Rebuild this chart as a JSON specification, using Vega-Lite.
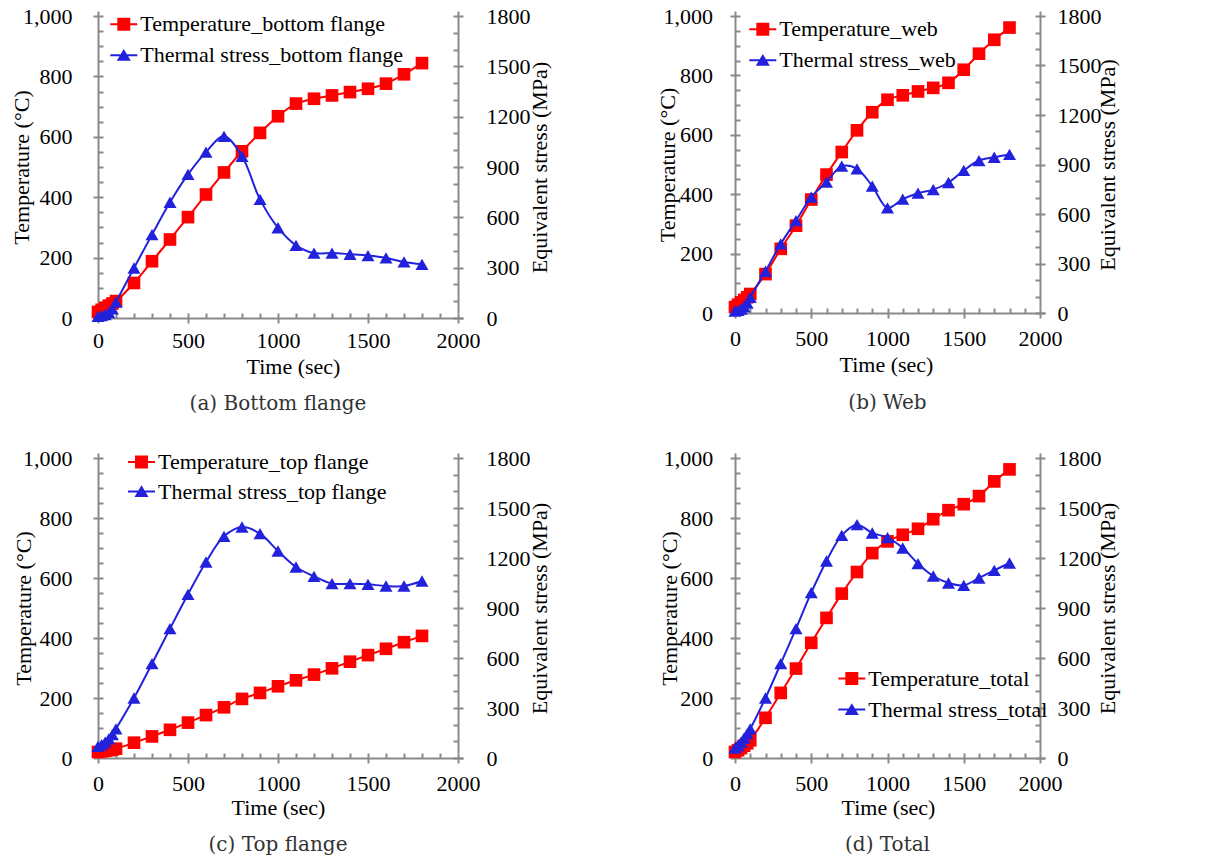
{
  "$schema": "https://vega.github.io/schema/vega-lite/v6.json",
  "padding": {"left": 10, "top": 5, "right": 5, "bottom": 5},
  "background": "white",
  "datasets": {
    "pts": [
      {"p": "a", "t": 0, "temp": 20, "stress": 10},
      {"p": "a", "t": 20, "temp": 27, "stress": 14},
      {"p": "a", "t": 40, "temp": 34, "stress": 20},
      {"p": "a", "t": 60, "temp": 41, "stress": 32},
      {"p": "a", "t": 80, "temp": 48, "stress": 55},
      {"p": "a", "t": 100, "temp": 56, "stress": 95},
      {"p": "a", "t": 200, "temp": 116, "stress": 298},
      {"p": "a", "t": 300, "temp": 188, "stress": 497},
      {"p": "a", "t": 400, "temp": 260, "stress": 690},
      {"p": "a", "t": 500, "temp": 334, "stress": 856},
      {"p": "a", "t": 600, "temp": 409, "stress": 989},
      {"p": "a", "t": 700, "temp": 482, "stress": 1083},
      {"p": "a", "t": 800, "temp": 552, "stress": 964},
      {"p": "a", "t": 900, "temp": 613, "stress": 707},
      {"p": "a", "t": 1000, "temp": 668, "stress": 538},
      {"p": "a", "t": 1100, "temp": 710, "stress": 433},
      {"p": "a", "t": 1200, "temp": 726, "stress": 387},
      {"p": "a", "t": 1300, "temp": 737, "stress": 387},
      {"p": "a", "t": 1400, "temp": 748, "stress": 380},
      {"p": "a", "t": 1500, "temp": 759, "stress": 372},
      {"p": "a", "t": 1600, "temp": 776, "stress": 358},
      {"p": "a", "t": 1700, "temp": 807, "stress": 334},
      {"p": "a", "t": 1800, "temp": 844, "stress": 320},

      {"p": "b", "t": 0, "temp": 20, "stress": 12},
      {"p": "b", "t": 20, "temp": 28, "stress": 16},
      {"p": "b", "t": 40, "temp": 36, "stress": 24},
      {"p": "b", "t": 60, "temp": 44, "stress": 38},
      {"p": "b", "t": 80, "temp": 53, "stress": 60},
      {"p": "b", "t": 100, "temp": 64, "stress": 95},
      {"p": "b", "t": 200, "temp": 131, "stress": 253},
      {"p": "b", "t": 300, "temp": 216, "stress": 419},
      {"p": "b", "t": 400, "temp": 294, "stress": 560},
      {"p": "b", "t": 500, "temp": 382, "stress": 702},
      {"p": "b", "t": 600, "temp": 466, "stress": 793},
      {"p": "b", "t": 700, "temp": 542, "stress": 890},
      {"p": "b", "t": 800, "temp": 615, "stress": 874},
      {"p": "b", "t": 900, "temp": 676, "stress": 769},
      {"p": "b", "t": 1000, "temp": 718, "stress": 637},
      {"p": "b", "t": 1100, "temp": 733, "stress": 690},
      {"p": "b", "t": 1200, "temp": 746, "stress": 726},
      {"p": "b", "t": 1300, "temp": 758, "stress": 748},
      {"p": "b", "t": 1400, "temp": 775, "stress": 791},
      {"p": "b", "t": 1500, "temp": 819, "stress": 864},
      {"p": "b", "t": 1600, "temp": 873, "stress": 924},
      {"p": "b", "t": 1700, "temp": 920, "stress": 944},
      {"p": "b", "t": 1800, "temp": 961, "stress": 961},

      {"p": "c", "t": 0, "temp": 20, "stress": 70},
      {"p": "c", "t": 20, "temp": 22, "stress": 80},
      {"p": "c", "t": 40, "temp": 24, "stress": 95},
      {"p": "c", "t": 60, "temp": 26, "stress": 115},
      {"p": "c", "t": 80, "temp": 28, "stress": 140},
      {"p": "c", "t": 100, "temp": 31, "stress": 175},
      {"p": "c", "t": 200, "temp": 51, "stress": 360},
      {"p": "c", "t": 300, "temp": 72, "stress": 566},
      {"p": "c", "t": 400, "temp": 94, "stress": 776},
      {"p": "c", "t": 500, "temp": 118, "stress": 982},
      {"p": "c", "t": 600, "temp": 143, "stress": 1176},
      {"p": "c", "t": 700, "temp": 169, "stress": 1330},
      {"p": "c", "t": 800, "temp": 197, "stress": 1386},
      {"p": "c", "t": 900, "temp": 217, "stress": 1346},
      {"p": "c", "t": 1000, "temp": 239, "stress": 1242},
      {"p": "c", "t": 1100, "temp": 259, "stress": 1146},
      {"p": "c", "t": 1200, "temp": 278, "stress": 1090},
      {"p": "c", "t": 1300, "temp": 299, "stress": 1046},
      {"p": "c", "t": 1400, "temp": 321, "stress": 1046},
      {"p": "c", "t": 1500, "temp": 343, "stress": 1042},
      {"p": "c", "t": 1600, "temp": 364, "stress": 1032},
      {"p": "c", "t": 1700, "temp": 386, "stress": 1032},
      {"p": "c", "t": 1800, "temp": 407, "stress": 1062},

      {"p": "d", "t": 0, "temp": 20, "stress": 60},
      {"p": "d", "t": 20, "temp": 26, "stress": 75},
      {"p": "d", "t": 40, "temp": 33, "stress": 95},
      {"p": "d", "t": 60, "temp": 41, "stress": 120},
      {"p": "d", "t": 80, "temp": 49, "stress": 145},
      {"p": "d", "t": 100, "temp": 59, "stress": 175},
      {"p": "d", "t": 200, "temp": 134, "stress": 360},
      {"p": "d", "t": 300, "temp": 217, "stress": 566},
      {"p": "d", "t": 400, "temp": 298, "stress": 776},
      {"p": "d", "t": 500, "temp": 384, "stress": 992},
      {"p": "d", "t": 600, "temp": 467, "stress": 1182},
      {"p": "d", "t": 700, "temp": 548, "stress": 1336},
      {"p": "d", "t": 800, "temp": 620, "stress": 1400},
      {"p": "d", "t": 900, "temp": 683, "stress": 1350},
      {"p": "d", "t": 1000, "temp": 722, "stress": 1322},
      {"p": "d", "t": 1100, "temp": 744, "stress": 1260},
      {"p": "d", "t": 1200, "temp": 764, "stress": 1166},
      {"p": "d", "t": 1300, "temp": 796, "stress": 1092},
      {"p": "d", "t": 1400, "temp": 826, "stress": 1050},
      {"p": "d", "t": 1500, "temp": 846, "stress": 1036},
      {"p": "d", "t": 1600, "temp": 873, "stress": 1080},
      {"p": "d", "t": 1700, "temp": 922, "stress": 1126},
      {"p": "d", "t": 1800, "temp": 962, "stress": 1170}
    ],
    "leg": [
      {"p": "a", "s": "Temperature_bottom flange"},
      {"p": "a", "s": "Thermal stress_bottom flange"},
      {"p": "b", "s": "Temperature_web"},
      {"p": "b", "s": "Thermal stress_web"},
      {"p": "c", "s": "Temperature_top flange"},
      {"p": "c", "s": "Thermal stress_top flange"},
      {"p": "d", "s": "Temperature_total"},
      {"p": "d", "s": "Thermal stress_total"}
    ]
  },
  "columns": 2,
  "spacing": {"row": 140, "column": 277},
  "bounds": "flush",
  "resolve": {
    "scale": {"color": "independent", "shape": "independent"},
    "legend": {"color": "independent", "shape": "independent"}
  },
  "concat": [
    {
      "width": 360, "height": 302,
      "title": {"text": "(a) Bottom flange", "offset": 17},
      "data": {"name": "pts"},
      "transform": [{"filter": "datum.p === 'a'"}],
      "layer": [
        {
          "mark": {"type": "line", "color": "#ff0000", "strokeWidth": 2, "interpolate": "catmull-rom",
                   "point": {"shape": "square", "filled": true, "size": 160, "color": "#ff0000", "opacity": 1}},
          "encoding": {
            "x": {"field": "t", "type": "quantitative", "scale": {"domain": [0, 2000], "nice": false},
                  "axis": {"values": [0, 500, 1000, 1500, 2000], "format": "d", "tickSize": 10,
                           "grid": true, "gridOpacity": {"condition": {"test": "datum.value === 0 || datum.value === 2000", "value": 1}, "value": 0},
                           "labelPadding": 7, "title": "Time (sec)", "titleX": 195, "titleY": 60, "titleBaseline": "alphabetic", "titleAlign": "center"}},
            "y": {"field": "temp", "type": "quantitative", "scale": {"domain": [0, 1000], "nice": false},
                  "axis": {"values": [0,50,100,150,200,250,300,350,400,450,500,550,600,650,700,750,800,850,900,950,1000],
                           "labelExpr": "datum.value % 200 === 0 ? format(datum.value, ',d') : ''",
                           "tickSize": {"condition": {"test": "datum.value % 200 === 0", "value": 10}, "value": 5},
                           "grid": true, "gridOpacity": {"condition": {"test": "datum.value === 0", "value": 1}, "value": 0},
                           "labelPadding": 21, "title": "Temperature (°C)", "titleAngle": 270, "titleBaseline": "middle", "titleAlign": "center", "titleX": -81.7, "titleY": 151}}
          }
        },
        {
          "mark": {"type": "line", "color": "#2222dd", "strokeWidth": 2, "interpolate": "catmull-rom",
                   "point": {"shape": "triangle-up", "filled": true, "size": 170, "color": "#2222dd", "opacity": 1}},
          "encoding": {
            "x": {"field": "t", "type": "quantitative", "scale": {"domain": [0, 2000], "nice": false},
                  "axis": {"orient": "bottom", "values": [100,200,300,400,600,700,800,900,1100,1200,1300,1400,1600,1700,1800,1900],
                           "tickSize": 5, "labels": false, "grid": false, "title": null}},
            "y": {"field": "stress", "type": "quantitative", "scale": {"domain": [0, 1800], "nice": false},
                  "axis": {"orient": "right", "values": [0,100,200,300,400,500,600,700,800,900,1000,1100,1200,1300,1400,1500,1600,1700,1800],
                           "labelExpr": "datum.value % 300 === 0 ? format(datum.value, 'd') : ''",
                           "tickSize": {"condition": {"test": "datum.value % 300 === 0", "value": 10}, "value": 5},
                           "grid": false, "labelPadding": 23, "title": "Equivalent stress (MPa)", "titleAngle": 270, "titleBaseline": "middle", "titleAlign": "center", "titleX": 86, "titleY": 151}}
          }
        },
        {
          "data": {"name": "leg"},
          "transform": [{"filter": "datum.p === 'a'"}],
          "mark": {"type": "point", "filled": true, "opacity": 0},
          "encoding": {
            "color": {"field": "s", "type": "nominal",
                      "scale": {"domain": ["Temperature_bottom flange", "Thermal stress_bottom flange"], "range": ["#ff0000", "#2222dd"]},
                      "legend": {"orient": "none", "legendX": 12.3, "legendY": -5.2}},
            "shape": {"field": "s", "type": "nominal",
                      "scale": {"domain": ["Temperature_bottom flange", "Thermal stress_bottom flange"],
                                "range": ["M-1,-0.075H1V0.075H-1Z M-0.48,-0.48H0.48V0.48H-0.48Z", "M-1,-0.075H1V0.075H-1Z M0,-0.47L0.52,0.4H-0.52Z"]},
                      "legend": {"orient": "none", "legendX": 12.3, "legendY": -5.2}}
          }
        }
      ],
      "resolve": {"scale": {"x": "independent", "y": "independent"}}
    },
    {
      "width": 305, "height": 297,
      "title": {"text": "(b) Web", "offset": 17},
      "data": {"name": "pts"},
      "transform": [{"filter": "datum.p === 'b'"}],
      "layer": [
        {
          "mark": {"type": "line", "color": "#ff0000", "strokeWidth": 2, "interpolate": "catmull-rom",
                   "point": {"shape": "square", "filled": true, "size": 160, "color": "#ff0000", "opacity": 1}},
          "encoding": {
            "x": {"field": "t", "type": "quantitative", "scale": {"domain": [0, 2000], "nice": false},
                  "axis": {"values": [0, 500, 1000, 1500, 2000], "format": "d", "tickSize": 10,
                           "grid": true, "gridOpacity": {"condition": {"test": "datum.value === 0 || datum.value === 2000", "value": 1}, "value": 0},
                           "labelPadding": 10, "title": "Time (sec)", "titleX": 151, "titleY": 63.5, "titleBaseline": "alphabetic", "titleAlign": "center"}},
            "y": {"field": "temp", "type": "quantitative", "scale": {"domain": [0, 1000], "nice": false},
                  "axis": {"values": [0,50,100,150,200,250,300,350,400,450,500,550,600,650,700,750,800,850,900,950,1000],
                           "labelExpr": "datum.value % 200 === 0 ? format(datum.value, ',d') : ''",
                           "tickSize": {"condition": {"test": "datum.value % 200 === 0", "value": 10}, "value": 5},
                           "grid": true, "gridOpacity": {"condition": {"test": "datum.value === 0", "value": 1}, "value": 0},
                           "labelPadding": 17.4, "title": "Temperature (°C)", "titleAngle": 270, "titleBaseline": "middle", "titleAlign": "center", "titleX": -72.2, "titleY": 148.5}}
          }
        },
        {
          "mark": {"type": "line", "color": "#2222dd", "strokeWidth": 2, "interpolate": "catmull-rom",
                   "point": {"shape": "triangle-up", "filled": true, "size": 170, "color": "#2222dd", "opacity": 1}},
          "encoding": {
            "x": {"field": "t", "type": "quantitative", "scale": {"domain": [0, 2000], "nice": false},
                  "axis": {"orient": "bottom", "values": [100,200,300,400,600,700,800,900,1100,1200,1300,1400,1600,1700,1800,1900],
                           "tickSize": 5, "labels": false, "grid": false, "title": null}},
            "y": {"field": "stress", "type": "quantitative", "scale": {"domain": [0, 1800], "nice": false},
                  "axis": {"orient": "right", "values": [0,100,200,300,400,500,600,700,800,900,1000,1100,1200,1300,1400,1500,1600,1700,1800],
                           "labelExpr": "datum.value % 300 === 0 ? format(datum.value, 'd') : ''",
                           "tickSize": {"condition": {"test": "datum.value % 300 === 0", "value": 10}, "value": 5},
                           "grid": false, "labelPadding": 12, "title": "Equivalent stress (MPa)", "titleAngle": 270, "titleBaseline": "middle", "titleAlign": "center", "titleX": 72.5, "titleY": 148.5}}
          }
        },
        {
          "data": {"name": "leg"},
          "transform": [{"filter": "datum.p === 'b'"}],
          "mark": {"type": "point", "filled": true, "opacity": 0},
          "encoding": {
            "color": {"field": "s", "type": "nominal",
                      "scale": {"domain": ["Temperature_web", "Thermal stress_web"], "range": ["#ff0000", "#2222dd"]},
                      "legend": {"orient": "none", "legendX": 14.3, "legendY": -0.2}},
            "shape": {"field": "s", "type": "nominal",
                      "scale": {"domain": ["Temperature_web", "Thermal stress_web"],
                                "range": ["M-1,-0.075H1V0.075H-1Z M-0.48,-0.48H0.48V0.48H-0.48Z", "M-1,-0.075H1V0.075H-1Z M0,-0.47L0.52,0.4H-0.52Z"]},
                      "legend": {"orient": "none", "legendX": 14.3, "legendY": -0.2}}
          }
        }
      ],
      "resolve": {"scale": {"x": "independent", "y": "independent"}}
    },
    {
      "width": 360, "height": 300,
      "title": {"text": "(c) Top flange", "offset": 17},
      "data": {"name": "pts"},
      "transform": [{"filter": "datum.p === 'c'"}],
      "layer": [
        {
          "mark": {"type": "line", "color": "#ff0000", "strokeWidth": 2, "interpolate": "catmull-rom",
                   "point": {"shape": "square", "filled": true, "size": 160, "color": "#ff0000", "opacity": 1}},
          "encoding": {
            "x": {"field": "t", "type": "quantitative", "scale": {"domain": [0, 2000], "nice": false},
                  "axis": {"values": [0, 500, 1000, 1500, 2000], "format": "d", "tickSize": 10,
                           "grid": true, "gridOpacity": {"condition": {"test": "datum.value === 0 || datum.value === 2000", "value": 1}, "value": 0},
                           "labelPadding": 10, "title": "Time (sec)", "titleX": 180, "titleY": 61, "titleBaseline": "alphabetic", "titleAlign": "center"}},
            "y": {"field": "temp", "type": "quantitative", "scale": {"domain": [0, 1000], "nice": false},
                  "axis": {"values": [0,50,100,150,200,250,300,350,400,450,500,550,600,650,700,750,800,850,900,950,1000],
                           "labelExpr": "datum.value % 200 === 0 ? format(datum.value, ',d') : ''",
                           "tickSize": {"condition": {"test": "datum.value % 200 === 0", "value": 10}, "value": 5},
                           "grid": true, "gridOpacity": {"condition": {"test": "datum.value === 0", "value": 1}, "value": 0},
                           "labelPadding": 21, "title": "Temperature (°C)", "titleAngle": 270, "titleBaseline": "middle", "titleAlign": "center", "titleX": -80, "titleY": 150}}
          }
        },
        {
          "mark": {"type": "line", "color": "#2222dd", "strokeWidth": 2, "interpolate": "catmull-rom",
                   "point": {"shape": "triangle-up", "filled": true, "size": 170, "color": "#2222dd", "opacity": 1}},
          "encoding": {
            "x": {"field": "t", "type": "quantitative", "scale": {"domain": [0, 2000], "nice": false},
                  "axis": {"orient": "bottom", "values": [100,200,300,400,600,700,800,900,1100,1200,1300,1400,1600,1700,1800,1900],
                           "tickSize": 5, "labels": false, "grid": false, "title": null}},
            "y": {"field": "stress", "type": "quantitative", "scale": {"domain": [0, 1800], "nice": false},
                  "axis": {"orient": "right", "values": [0,100,200,300,400,500,600,700,800,900,1000,1100,1200,1300,1400,1500,1600,1700,1800],
                           "labelExpr": "datum.value % 300 === 0 ? format(datum.value, 'd') : ''",
                           "tickSize": {"condition": {"test": "datum.value % 300 === 0", "value": 10}, "value": 5},
                           "grid": false, "labelPadding": 23, "title": "Equivalent stress (MPa)", "titleAngle": 270, "titleBaseline": "middle", "titleAlign": "center", "titleX": 86, "titleY": 150}}
          }
        },
        {
          "data": {"name": "leg"},
          "transform": [{"filter": "datum.p === 'c'"}],
          "mark": {"type": "point", "filled": true, "opacity": 0},
          "encoding": {
            "color": {"field": "s", "type": "nominal",
                      "scale": {"domain": ["Temperature_top flange", "Thermal stress_top flange"], "range": ["#ff0000", "#2222dd"]},
                      "legend": {"orient": "none", "legendX": 30, "legendY": -9.5, "rowPadding": 4.6}},
            "shape": {"field": "s", "type": "nominal",
                      "scale": {"domain": ["Temperature_top flange", "Thermal stress_top flange"],
                                "range": ["M-1,-0.075H1V0.075H-1Z M-0.48,-0.48H0.48V0.48H-0.48Z", "M-1,-0.075H1V0.075H-1Z M0,-0.47L0.52,0.4H-0.52Z"]},
                      "legend": {"orient": "none", "legendX": 30, "legendY": -9.5, "rowPadding": 4.6}}
          }
        }
      ],
      "resolve": {"scale": {"x": "independent", "y": "independent"}}
    },
    {
      "width": 305, "height": 300,
      "title": {"text": "(d) Total", "offset": 17},
      "data": {"name": "pts"},
      "transform": [{"filter": "datum.p === 'd'"}],
      "layer": [
        {
          "mark": {"type": "line", "color": "#ff0000", "strokeWidth": 2, "interpolate": "catmull-rom",
                   "point": {"shape": "square", "filled": true, "size": 160, "color": "#ff0000", "opacity": 1}},
          "encoding": {
            "x": {"field": "t", "type": "quantitative", "scale": {"domain": [0, 2000], "nice": false},
                  "axis": {"values": [0, 500, 1000, 1500, 2000], "format": "d", "tickSize": 10,
                           "grid": true, "gridOpacity": {"condition": {"test": "datum.value === 0 || datum.value === 2000", "value": 1}, "value": 0},
                           "labelPadding": 10, "title": "Time (sec)", "titleX": 153, "titleY": 61, "titleBaseline": "alphabetic", "titleAlign": "center"}},
            "y": {"field": "temp", "type": "quantitative", "scale": {"domain": [0, 1000], "nice": false},
                  "axis": {"values": [0,50,100,150,200,250,300,350,400,450,500,550,600,650,700,750,800,850,900,950,1000],
                           "labelExpr": "datum.value % 200 === 0 ? format(datum.value, ',d') : ''",
                           "tickSize": {"condition": {"test": "datum.value % 200 === 0", "value": 10}, "value": 5},
                           "grid": true, "gridOpacity": {"condition": {"test": "datum.value === 0", "value": 1}, "value": 0},
                           "labelPadding": 17.3, "title": "Temperature (°C)", "titleAngle": 270, "titleBaseline": "middle", "titleAlign": "center", "titleX": -70.5, "titleY": 150}}
          }
        },
        {
          "mark": {"type": "line", "color": "#2222dd", "strokeWidth": 2, "interpolate": "catmull-rom",
                   "point": {"shape": "triangle-up", "filled": true, "size": 170, "color": "#2222dd", "opacity": 1}},
          "encoding": {
            "x": {"field": "t", "type": "quantitative", "scale": {"domain": [0, 2000], "nice": false},
                  "axis": {"orient": "bottom", "values": [100,200,300,400,600,700,800,900,1100,1200,1300,1400,1600,1700,1800,1900],
                           "tickSize": 5, "labels": false, "grid": false, "title": null}},
            "y": {"field": "stress", "type": "quantitative", "scale": {"domain": [0, 1800], "nice": false},
                  "axis": {"orient": "right", "values": [0,100,200,300,400,500,600,700,800,900,1000,1100,1200,1300,1400,1500,1600,1700,1800],
                           "labelExpr": "datum.value % 300 === 0 ? format(datum.value, 'd') : ''",
                           "tickSize": {"condition": {"test": "datum.value % 300 === 0", "value": 10}, "value": 5},
                           "grid": false, "labelPadding": 12, "title": "Equivalent stress (MPa)", "titleAngle": 270, "titleBaseline": "middle", "titleAlign": "center", "titleX": 72.7, "titleY": 150}}
          }
        },
        {
          "data": {"name": "leg"},
          "transform": [{"filter": "datum.p === 'd'"}],
          "mark": {"type": "point", "filled": true, "opacity": 0},
          "encoding": {
            "color": {"field": "s", "type": "nominal",
                      "scale": {"domain": ["Temperature_total", "Thermal stress_total"], "range": ["#ff0000", "#2222dd"]},
                      "legend": {"orient": "none", "legendX": 103.3, "legendY": 207.1}},
            "shape": {"field": "s", "type": "nominal",
                      "scale": {"domain": ["Temperature_total", "Thermal stress_total"],
                                "range": ["M-1,-0.075H1V0.075H-1Z M-0.48,-0.48H0.48V0.48H-0.48Z", "M-1,-0.075H1V0.075H-1Z M0,-0.47L0.52,0.4H-0.52Z"]},
                      "legend": {"orient": "none", "legendX": 103.3, "legendY": 207.1}}
          }
        }
      ],
      "resolve": {"scale": {"x": "independent", "y": "independent"}}
    }
  ],
  "config": {
    "view": {"stroke": null},
    "font": "Liberation Serif",
    "title": {"orient": "bottom", "anchor": "middle", "frame": "group", "font": "DejaVu Serif", "fontSize": 20, "fontWeight": "normal", "color": "#333333"},
    "axis": {
      "domain": false, "offset": -5,
      "tickColor": "#8a8a8a", "tickWidth": 2,
      "gridColor": "#8a8a8a", "gridWidth": 2,
      "labelFont": "Liberation Serif", "labelFontSize": 22, "labelColor": "#000000",
      "labelOverlap": false, "labelFlush": false, "labelBound": false,
      "titleFont": "Liberation Serif", "titleFontSize": 22, "titleFontWeight": "normal", "titleColor": "#000000"
    },
    "legend": {
      "title": null, "padding": 0, "symbolSize": 729, "symbolOpacity": 1, "symbolStrokeWidth": 0,
      "labelFont": "Liberation Serif", "labelFontSize": 22, "labelColor": "#000000", "labelLimit": 400,
      "labelOffset": 3, "rowPadding": 6
    }
  }
}
